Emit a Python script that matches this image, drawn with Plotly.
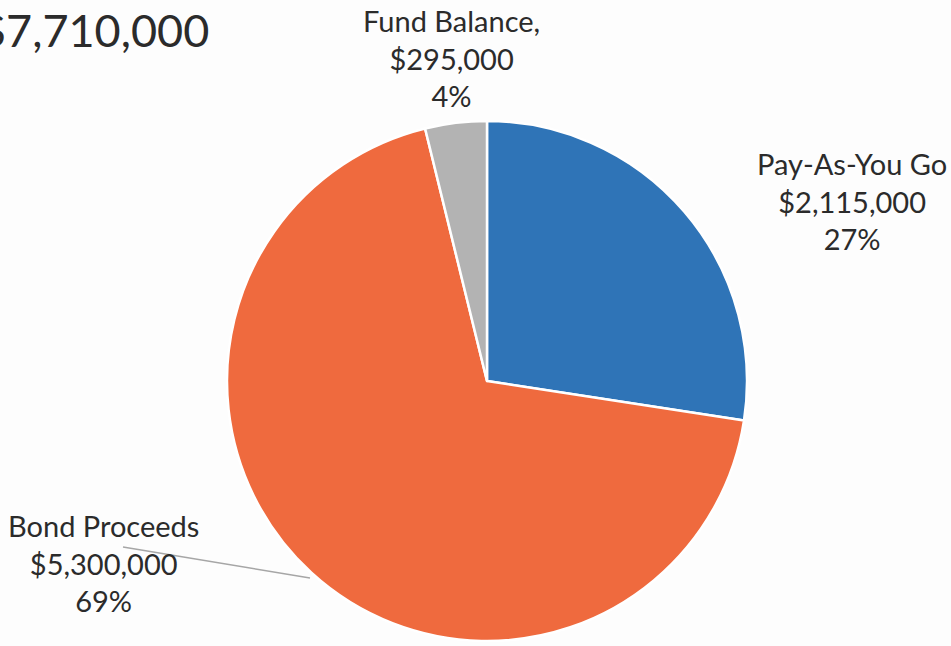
import plotly.graph_objects as go

# Funding sources for the capital program
sources = ["Pay-As-You Go", "Bond Proceeds", "Fund Balance,"]
amounts = [2115000, 5300000, 295000]
colors = ["#2F74B7", "#EF6A3E", "#B3B3B3"]

total = sum(amounts)

W, H = 951, 646
fig = go.Figure()

fig.add_trace(go.Pie(
    labels=sources,
    values=amounts,
    sort=False,
    direction="clockwise",
    rotation=0,
    textinfo="none",
    hoverinfo="label+value+percent",
    marker=dict(colors=colors, line=dict(color="white", width=2.5)),
    domain=dict(x=[227 / W, 747 / W], y=[5 / H, 525 / H]),
    showlegend=False,
))

font = dict(family="Lato, 'Open Sans', sans-serif", size=29, color="#2b2b2b")

# Data labels: name, amount, rounded share
label_pos = {
    "Pay-As-You Go": (852 / W, 1 - 201 / H),
    "Fund Balance,": (451 / W, 1 - 58 / H),
    "Bond Proceeds": (103 / W, 1 - 563 / H),
}
for name, amt in zip(sources, amounts):
    x, y = label_pos[name]
    pct = round(100 * amt / total)
    fig.add_annotation(
        x=x, y=y, xref="paper", yref="paper",
        text=f"{name}<br>${amt:,.0f}<br>{pct}%",
        showarrow=False, font=font, align="center",
        xanchor="center", yanchor="middle",
    )

# Leader line for the Bond Proceeds label
fig.add_shape(type="line", xref="paper", yref="paper",
              x0=123 / W, y0=1 - 547 / H, x1=310 / W, y1=1 - 578 / H,
              line=dict(color="#A6A6A6", width=1.5), layer="below")

# Total
fig.add_annotation(
    x=211 / W, y=1 - 30 / H, xref="paper", yref="paper",
    text=f"${total:,.0f}", showarrow=False,
    font=dict(family="Lato, 'Open Sans', sans-serif", size=45, color="#2b2b2b"),
    xanchor="right", yanchor="middle",
)

fig.update_layout(
    width=W, height=H,
    margin=dict(l=0, r=0, t=0, b=0),
    paper_bgcolor="#FDFDFD",
    plot_bgcolor="#FDFDFD",
)

fig.write_html("out.html")
